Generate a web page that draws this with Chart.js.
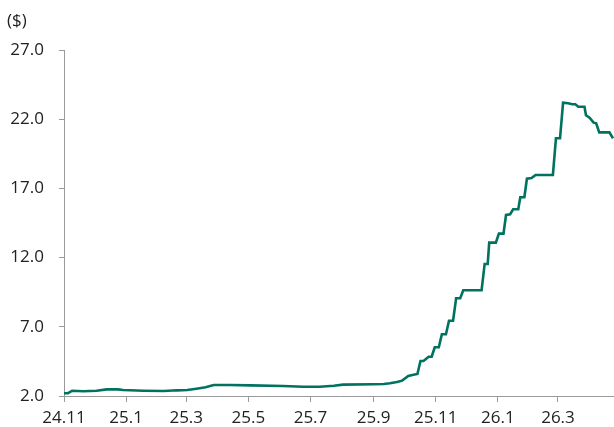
<!DOCTYPE html>
<html>
<head>
<meta charset="utf-8">
<script src="https://cdn.jsdelivr.net/npm/chart.js@4"></script>
<style>
  html, body { margin: 0; padding: 0; background: #fff; }
  #wrap { width: 614px; height: 427px; }
</style>
</head>
<body>
<div id="wrap"><canvas id="chart" width="614" height="427"></canvas></div>
<script>
// days counted from 2024-11-01
const days = [0, 4, 8, 19, 32, 42, 53, 58, 78, 98, 111, 121, 130, 139, 147, 163, 183, 215, 235, 251,
  265, 274, 304, 314, 320, 327, 332, 335, 338, 342, 347, 350, 353, 358, 361, 364, 368, 371, 375, 378,
  382, 385, 389, 392, 410, 413, 416, 417.5, 424, 427, 431.5, 434, 438, 441, 446, 448, 452, 454.5, 459, 463,
  480, 483, 487, 490, 495, 499, 502, 505, 511, 512.5, 516, 520, 522.5, 525.5, 535.5, 539];
const prices = [2.20, 2.20, 2.38, 2.34, 2.38, 2.48, 2.48, 2.43, 2.38, 2.36, 2.41, 2.43, 2.53, 2.63, 2.79, 2.79, 2.77, 2.72, 2.67, 2.67,
  2.74, 2.82, 2.85, 2.87, 2.92, 3.01, 3.11, 3.28, 3.45, 3.52, 3.59, 4.53, 4.53, 4.84, 4.84, 5.52, 5.52, 6.46, 6.46, 7.44,
  7.44, 9.06, 9.06, 9.64, 9.64, 11.54, 11.54, 13.08, 13.08, 13.73, 13.73, 15.08, 15.13, 15.49, 15.49, 16.36, 16.36, 17.70, 17.75, 17.97,
  17.97, 20.62, 20.62, 23.19, 23.15, 23.08, 23.08, 22.90, 22.90, 22.28, 22.11, 21.75, 21.70, 21.05, 21.05, 20.62];

const tickDays = [0, 61, 120, 181, 242, 304, 365, 426, 485];
const tickLabels = ['24.11', '25.1', '25.3', '25.5', '25.7', '25.9', '25.11', '26.1', '26.3'];

const axisColor = '#9a9a9a';
const textColor = '#222';
const font = { family: '"Open Sans", "Noto Sans", sans-serif', size: 17, weight: 'normal' };

const ctx = document.getElementById('chart').getContext('2d');
new Chart(ctx, {
  type: 'line',
  data: {
    datasets: [{
      data: days.map((d, i) => ({ x: d, y: prices[i] })),
      borderColor: '#00725f',
      borderWidth: 2.6,
      pointRadius: 0,
      tension: 0,
      fill: false
    }]
  },
  options: {
    responsive: false,
    animation: false,
    layout: { padding: { left: 7, right: 0, top: 0, bottom: 0 } },
    plugins: {
      legend: { display: false },
      tooltip: { enabled: false },
      title: {
        display: true,
        text: '($)',
        align: 'start',
        color: textColor,
        font: font,
        padding: { top: 11, bottom: 18.6 }
      }
    },
    scales: {
      x: {
        type: 'linear',
        min: 0,
        max: 540,
        afterBuildTicks: (axis) => { axis.ticks = tickDays.map(v => ({ value: v })); },
        afterFit: (axis) => { axis.height = 31; },
        ticks: {
          color: textColor,
          font: font,
          padding: 6,
          maxRotation: 0,
          autoSkip: false,
          callback: (v) => tickLabels[tickDays.indexOf(v)]
        },
        grid: { drawOnChartArea: false, drawTicks: true, tickLength: 6, color: axisColor },
        border: { display: true, color: axisColor, width: 1 }
      },
      y: {
        min: 2,
        max: 27,
        afterFit: (axis) => { axis.width = 57; },
        ticks: {
          stepSize: 5,
          color: textColor,
          font: font,
          padding: 15,
          callback: (v) => v.toFixed(1)
        },
        grid: { drawOnChartArea: false, drawTicks: true, tickLength: 5, color: axisColor },
        border: { display: true, color: axisColor, width: 1 }
      }
    }
  }
});
</script>
</body>
</html>
